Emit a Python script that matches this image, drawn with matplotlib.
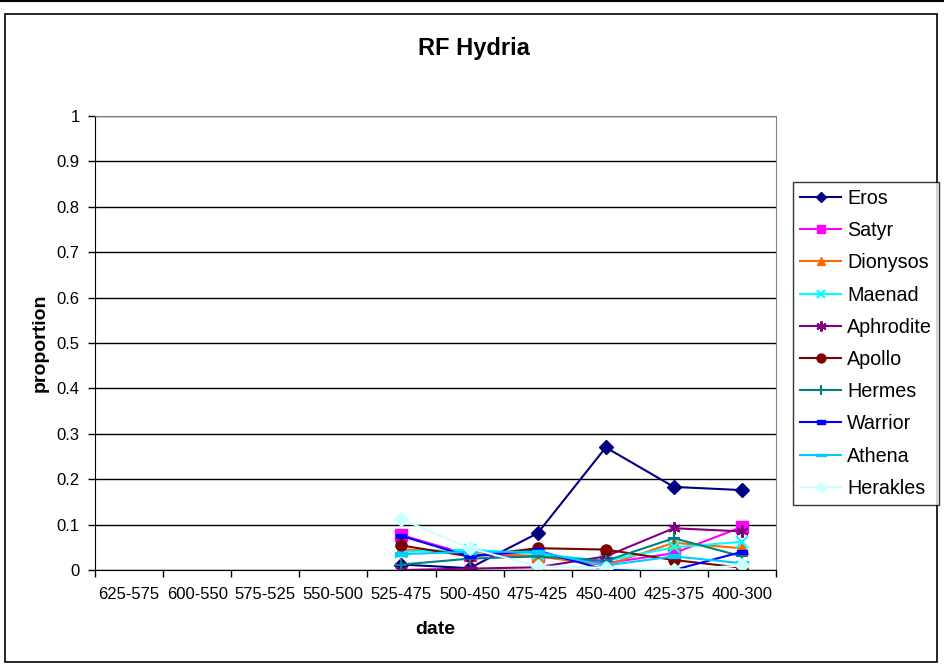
import numpy as np
import matplotlib
matplotlib.use("Agg")
import matplotlib.pyplot as plt
from matplotlib.patches import Rectangle
from matplotlib.lines import Line2D

plt.rcParams['font.family'] = ['Liberation Sans', 'DejaVu Sans']

categories = ["625-575", "600-550", "575-525", "550-500", "525-475",
              "500-450", "475-425", "450-400", "425-375", "400-300"]
nan = np.nan
eros      = [nan, nan, nan, nan, 0.012, 0.004, 0.081, 0.270, 0.183, 0.176]
satyr     = [nan, nan, nan, nan, 0.077, 0.033, 0.030, 0.015, 0.037, 0.095]
dionysos  = [nan, nan, nan, nan, 0.045, 0.040, 0.030, 0.010, 0.060, 0.048]
maenad    = [nan, nan, nan, nan, 0.040, 0.045, 0.035, 0.020, 0.050, 0.062]
aphrodite = [nan, nan, nan, nan, 0.000, 0.003, 0.006, 0.030, 0.092, 0.085]
apollo    = [nan, nan, nan, nan, 0.054, 0.030, 0.048, 0.045, 0.022, 0.005]
hermes    = [nan, nan, nan, nan, 0.012, 0.025, 0.030, 0.020, 0.070, 0.030]
warrior   = [nan, nan, nan, nan, 0.075, 0.030, 0.043, 0.000, 0.000, 0.040]
athena    = [nan, nan, nan, nan, 0.035, 0.040, 0.040, 0.010, 0.030, 0.015]
herakles  = [nan, nan, nan, nan, 0.112, 0.048, 0.008, 0.005, 0.000, 0.010]

series_names = ["Eros", "Satyr", "Dionysos", "Maenad", "Aphrodite",
                "Apollo", "Hermes", "Warrior", "Athena", "Herakles"]
series_values = [eros, satyr, dionysos, maenad, aphrodite,
                 apollo, hermes, warrior, athena, herakles]

colors = ["#000080", "#FF00FF", "#FF6600", "#00FFFF", "#800080",
          "#800000", "#008080", "#0000FF", "#00CCFF", "#CCFFFF"]
short_dash = [(-1, -0.45), (1, -0.45), (1, 0.45), (-1, 0.45), (-1, -0.45)]
long_dash = [(-1.6, -0.4), (1.6, -0.4), (1.6, 0.4), (-1.6, 0.4), (-1.6, -0.4)]
markers = ["D", "s", "^", "x", (6, 2, 0), "o", "+", short_dash, long_dash, "D"]
msizes = [7, 8, 8, 8, 9, 8, 9, 7, 9, 7]

fig = plt.figure(figsize=(9.44, 6.65), dpi=100)
ax = fig.add_axes([95/944, 1 - 570/665, (776-95)/944, (570-116)/665])

x = np.arange(len(categories))
handles = []
for name, vals, c, m, ms in zip(series_names, series_values, colors, markers, msizes):
    mew = 1.5 if m in ("x", "+") or isinstance(m, tuple) else 1
    h, = ax.plot(x, vals, color=c, marker=m, markersize=ms, linewidth=1.5,
                 markeredgewidth=mew, markerfacecolor=c, markeredgecolor=c,
                 label=name)
    handles.append(h)

ax.set_xlim(-0.5, len(categories) - 0.5)
ax.set_ylim(0, 1)
ax.set_yticks(np.arange(0, 1.01, 0.1))
ax.set_yticklabels(["0", "0.1", "0.2", "0.3", "0.4", "0.5", "0.6", "0.7", "0.8", "0.9", "1"])
ax.set_xticks(x)
ax.set_xticklabels(categories)
ax.set_xticks(np.arange(-0.5, len(categories), 1), minor=True)
ax.tick_params(axis='x', which='major', length=0, pad=12, labelsize=12)
ax.tick_params(axis='x', which='minor', length=5, direction='out', width=1)
ax.tick_params(axis='y', length=5, direction='out', width=1, labelsize=12, pad=6)
ax.yaxis.grid(True, color='black', linewidth=1)
ax.set_axisbelow(True)
for s in ['top', 'right']:
    ax.spines[s].set_color('#808080')
for s in ['left', 'bottom']:
    ax.spines[s].set_color('black')

ax.set_xlabel("date", fontsize=14, fontweight='bold', labelpad=14)
ax.set_ylabel("proportion", fontsize=14, fontweight='bold', labelpad=6)
fig.text(474/944, 1 - 48/665, "RF Hydria", fontsize=17, fontweight='bold',
         ha='center', va='center')

leg = fig.legend(handles=handles, loc='upper left',
                 bbox_to_anchor=(793/944, 1 - 182/665), fontsize=14.2,
                 frameon=True, fancybox=False, edgecolor='black',
                 borderaxespad=0, handlelength=2.1, labelspacing=0.67,
                 borderpad=0.35, handletextpad=0.3, markerscale=0.8)
leg.get_frame().set_linewidth(1)

fig.patches.append(Rectangle((5/944, 1 - 662/665), 932/944, 648/665,
                             transform=fig.transFigure, fill=False,
                             edgecolor='black', linewidth=1.2))
fig.lines.append(Line2D([0, 1], [1 - 1/665, 1 - 1/665], transform=fig.transFigure,
                        color='black', linewidth=1.5))

fig.savefig("out.png", dpi=100)
